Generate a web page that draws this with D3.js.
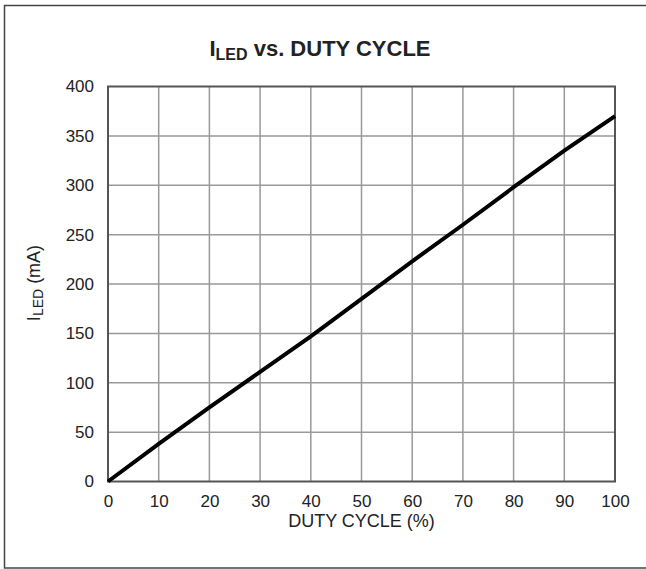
<!DOCTYPE html>
<html><head><meta charset="utf-8">
<script src="https://cdn.jsdelivr.net/npm/d3@7"></script>
<style>body{margin:0;background:#fff}svg{display:block}</style>
</head><body>
<script>
const dutyCycle = [0, 10, 20, 30, 40, 45, 50, 60, 70, 80, 90, 100];
const iLed      = [0, 38, 75, 111, 147, 166, 185, 223, 260, 298, 335, 370];
const xTicks = [0,10,20,30,40,50,60,70,80,90,100];
const yTicks = [0,50,100,150,200,250,300,350,400];

const W = 646, H = 569;
const m = {left:108, right:31, top:86.5, bottom:87.5};
const svg = d3.select("body").append("svg").attr("width",W).attr("height",H);
const font = "Liberation Sans, Arial, Helvetica, sans-serif";

svg.append("rect").attr("x",4.5).attr("y",5.5).attr("width",700).attr("height",562.5)
  .attr("fill","none").attr("stroke","#444").attr("stroke-width",1.5);

const x = d3.scaleLinear().domain([0,100]).range([m.left, W-m.right]);
const y = d3.scaleLinear().domain([0,400]).range([H-m.bottom, m.top]);

const g = svg.append("g");
g.selectAll(".vg").data(xTicks.slice(1,-1)).join("line")
  .attr("x1",d=>x(d)).attr("x2",d=>x(d)).attr("y1",y(0)).attr("y2",y(400))
  .attr("stroke","#999").attr("stroke-width",1.5);
g.selectAll(".hg").data(yTicks.slice(1,-1)).join("line")
  .attr("y1",d=>y(d)).attr("y2",d=>y(d)).attr("x1",x(0)).attr("x2",x(100))
  .attr("stroke","#999").attr("stroke-width",1.5);
g.append("rect").attr("x",x(0)).attr("y",y(400)).attr("width",x(100)-x(0)).attr("height",y(0)-y(400))
  .attr("fill","none").attr("stroke","#555").attr("stroke-width",2);

const xAxis = svg.append("g").attr("transform",`translate(0,${y(0)})`)
  .call(d3.axisBottom(x).tickValues(xTicks).tickSize(0).tickPadding(13));
const yAxis = svg.append("g").attr("transform",`translate(${x(0)},0)`)
  .call(d3.axisLeft(y).tickValues(yTicks).tickSize(0).tickPadding(14));
[xAxis,yAxis].forEach(a=>{a.select(".domain").remove();
  a.selectAll("text").attr("font-family",font).attr("font-size",17).attr("fill","#222");});

const line = d3.line().x((d,i)=>x(dutyCycle[i])).y(d=>y(d));
svg.append("path").datum(iLed).attr("d",line).attr("fill","none")
  .attr("stroke","#000").attr("stroke-width",4).attr("stroke-linecap","butt");

const t = svg.append("text").attr("x",320).attr("y",56).attr("text-anchor","middle")
  .attr("font-family",font).attr("font-weight","bold").attr("font-size",22).attr("fill","#222");
t.append("tspan").text("I");
t.append("tspan").attr("font-size",16).attr("dy",4).text("LED");
t.append("tspan").attr("dy",-4).text(" vs. DUTY CYCLE");

svg.append("text").attr("x",x(50)).attr("y",527).attr("text-anchor","middle")
  .attr("font-family",font).attr("font-size",18).attr("fill","#222").text("DUTY CYCLE (%)");

const yl = svg.append("text").attr("transform","translate(40,283) rotate(-90)").attr("text-anchor","middle")
  .attr("font-family",font).attr("font-size",18).attr("fill","#222");
yl.append("tspan").text("I");
yl.append("tspan").attr("font-size",14).attr("dy",3).text("LED");
yl.append("tspan").attr("dy",-3).text(" (mA)");
</script>
</body></html>
